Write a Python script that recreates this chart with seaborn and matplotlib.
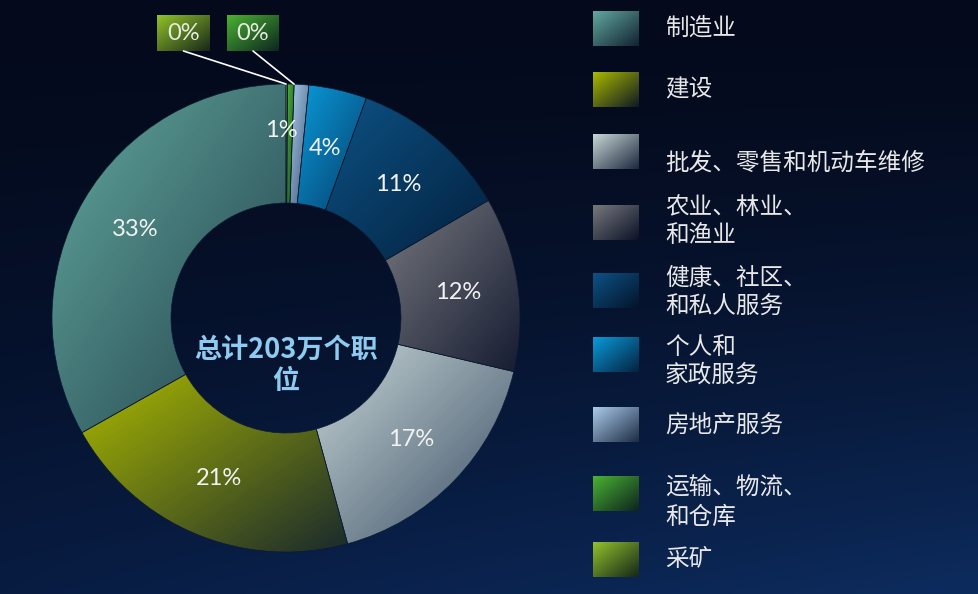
import numpy as np
import matplotlib
matplotlib.use("Agg")
import matplotlib.pyplot as plt
from matplotlib.colors import to_rgb
import seaborn as sns

# Share of total jobs by sector (%)
sectors = ["制造业", "建设", "批发、零售和机动车维修", "农业、林业、\n和渔业",
           "健康、社区、\n和私人服务", "个人和\n家政服务", "房地产服务",
           "运输、物流、\n和仓库", "采矿"]
shares = [33, 21, 17, 12, 11, 4, 1, 0.45, 0.1]
share_labels = ["33%", "21%", "17%", "12%", "11%", "4%", "1%", "0%", "0%"]
total_lines = ["总计203万个职", "位"]

# light (top-left) and dark (bottom-right) ends of each sector's fill
light = ["#62a89f", "#aab800", "#c8d6d6", "#76787e", "#0d5284",
         "#0a9ad8", "#aacbea", "#4ab232", "#92c22a"]
dark = ["#22404a", "#1a2a2c", "#3a4e66", "#161c32", "#03203e",
        "#053e6c", "#3c5676", "#164222", "#2a4618"]

sns.set_theme(style="dark")
plt.rcParams["font.family"] = ["Noto Sans CJK SC", "DejaVu Sans"]

W, H = 979, 594
BG_TOP = "#040a1c"


def diag_gradient(c1, c2, n=96):
    cols = np.array(sns.blend_palette([c1, c2], n_colors=n))[:, :3]
    r, c = np.mgrid[0:n, 0:n]
    idx = np.round((r + c) / (2 * (n - 1)) * (n - 1)).astype(int)
    return cols[idx]


def mix(c1, c2, t):
    a, b = np.array(to_rgb(c1)), np.array(to_rgb(c2))
    return tuple(a * (1 - t) + b * t)


fig = plt.figure(figsize=(W / 100, H / 100), dpi=100)
ax = fig.add_axes([0, 0, 1, 1])

# background: dark navy at the top, bluer toward the bottom right
ny, nx = 120, 200
yy, xx = np.mgrid[0:ny, 0:nx]
ty = (yy / (ny - 1)) ** 1.6
tx = xx / (nx - 1)
top = np.array(to_rgb(BG_TOP))
bot_l = np.array(to_rgb("#081c42"))
bot_r = np.array(to_rgb("#0d2c5e"))
bottom = bot_l[None, None, :] * (1 - tx[..., None]) + bot_r[None, None, :] * tx[..., None]
bg = top[None, None, :] * (1 - ty[..., None]) + bottom * ty[..., None]
ax.imshow(bg, extent=(0, W, 0, H), origin="upper", aspect="auto",
          interpolation="bilinear", zorder=0)

# donut
cx, cy, R, ring = 286, 276, 234, 119
wedges, _ = ax.pie(shares[::-1], radius=R, center=(cx, cy), startangle=90,
                   counterclock=False,
                   wedgeprops=dict(width=ring, edgecolor="#0b1a30", linewidth=0.5))
wedges = wedges[::-1]
for w, c1, c2 in zip(wedges, light, dark):
    x0, y0, x1, y1 = w.get_path().get_extents().extents
    im = ax.imshow(diag_gradient(c1, c2), extent=(x0, x1, y0, y1), origin="upper",
                   aspect="auto", interpolation="bilinear", zorder=2)
    im.set_clip_path(w)
    w.set_facecolor("none")
    w.set_zorder(3)

# percentage labels inside the ring
lab_r = 0.745 * R
angle_nudge = {"房地产服务": 5.3}
radius_nudge = {"房地产服务": 0.8 * R}
for name, w, lab in zip(sectors, wedges, share_labels):
    if lab == "0%":
        continue
    mid = np.deg2rad((w.theta1 + w.theta2) / 2 + angle_nudge.get(name, 0))
    rr = radius_nudge.get(name, lab_r)
    ax.text(cx + rr * np.cos(mid), cy + rr * np.sin(mid), lab, ha="center",
            va="center", fontsize=17, color="#f2f2f2", family="Lato", zorder=5)

# callout boxes for the near-zero sectors
boxes = {"采矿": (157, 210), "运输、物流、\n和仓库": (227, 279)}
box_top, box_bot = H - 15, H - 51
for name, (bx0, bx1) in boxes.items():
    i = sectors.index(name)
    w = wedges[i]
    ax.imshow(diag_gradient(light[i], mix(dark[i], BG_TOP, 0.5)),
              extent=(bx0, bx1, box_bot, box_top), origin="upper", aspect="auto",
              interpolation="bilinear", zorder=4)
    ax.text((bx0 + bx1) / 2, (box_top + box_bot) / 2, share_labels[i], ha="center",
            va="center", fontsize=17, color="#e6ecdf", family="Lato", zorder=5)
    ang = np.deg2rad(w.theta2 if i == len(sectors) - 1 else w.theta1)
    tipx, tipy = cx + R * np.cos(ang), cy + R * np.sin(ang)
    ax.plot([(bx0 + bx1) / 2, tipx], [box_bot, tipy], color="white", lw=1.2, zorder=6)

# centre caption
for k, line in enumerate(total_lines):
    ax.text(cx, H - 350 - 31 * k, line, ha="center", va="center", fontsize=19.5,
            fontweight="bold", color="#8fcbf0", zorder=5)

# legend
sq_x0, sq_x1, sq_h = 593, 639, 35
sq_tops = [11, 72, 134, 205, 273, 337, 407, 476, 542]
line_ys = [[28], [90], [163], [208, 235], [278, 307], [348, 375], [425], [488, 517], [560]]
for i, name in enumerate(sectors):
    t = sq_tops[i]
    ax.imshow(diag_gradient(light[i], mix(dark[i], BG_TOP, 0.55)),
              extent=(sq_x0, sq_x1, H - t - sq_h, H - t), origin="upper",
              aspect="auto", interpolation="bilinear", zorder=4)
    for line, ly in zip(name.split("\n"), line_ys[i]):
        ax.text(665, H - ly, line, ha="left", va="center", fontsize=17,
                color="#e8e8e8", zorder=5)

ax.set_xlim(0, W)
ax.set_ylim(0, H)
ax.set_axis_off()
fig.savefig("out.png", dpi=100, facecolor=BG_TOP)
